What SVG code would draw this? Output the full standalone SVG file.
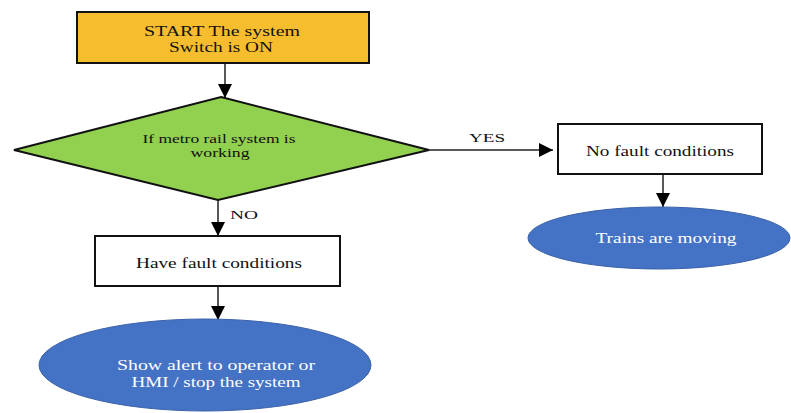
<svg xmlns="http://www.w3.org/2000/svg" width="791" height="413" viewBox="0 0 791 413">
  <defs>
    <marker id="arrow" markerUnits="userSpaceOnUse" markerWidth="16" markerHeight="14" refX="14" refY="7" orient="auto">
      <path d="M0,0 L14,7 L0,14 Z" fill="#000"/>
    </marker>
    <style>
      .dark { fill: #111; }
      .light { fill: #fff; }
      .box { stroke: #111; stroke-width: 2; }
      .conn { stroke: #222; stroke-width: 1.5; fill: none; }
      .oval { fill: #4472C4; stroke: #3b62a8; stroke-width: 1; }
    </style>
  </defs>

  <rect width="791" height="413" fill="#fff"/>

  <g font-family="'Liberation Serif', 'DejaVu Serif', serif" text-anchor="middle">
  <!-- connectors -->
  <g id="connectors">
    <line class="conn" x1="225" y1="63" x2="225" y2="98" marker-end="url(#arrow)"/>
    <line class="conn" x1="429" y1="150" x2="553" y2="150" marker-end="url(#arrow)"/>
    <line class="conn" x1="663" y1="174" x2="663" y2="207" marker-end="url(#arrow)"/>
    <line class="conn" x1="218" y1="200" x2="218" y2="236" marker-end="url(#arrow)"/>
    <line class="conn" x1="218" y1="286" x2="218" y2="320" marker-end="url(#arrow)"/>
    <text class="dark" x="487" y="142" font-size="13" textLength="36" lengthAdjust="spacingAndGlyphs">YES</text>
    <text class="dark" x="244" y="219" font-size="13" textLength="28" lengthAdjust="spacingAndGlyphs">NO</text>
  </g>

  <!-- start -->
  <g id="start">
    <rect class="box" x="77" y="12" width="292" height="51" fill="#F6BD2F"/>
    <text class="dark" x="222" y="36" font-size="14" textLength="156" lengthAdjust="spacingAndGlyphs">START The system</text>
    <text class="dark" x="221" y="52" font-size="14" textLength="104" lengthAdjust="spacingAndGlyphs">Switch is ON</text>
  </g>

  <!-- decision -->
  <g id="decision">
    <polygon points="221,97 429,150 218,200 14,150" fill="#92D050" stroke="#111" stroke-width="2"/>
    <text class="dark" x="219" y="143" font-size="12" textLength="153" lengthAdjust="spacingAndGlyphs">If metro rail system is</text>
    <text class="dark" x="220" y="157" font-size="12" textLength="59" lengthAdjust="spacingAndGlyphs">working</text>
  </g>

  <!-- no fault -->
  <g id="no-fault">
    <rect class="box" x="558" y="124" width="204" height="50" fill="#fff"/>
    <text class="dark" x="660" y="156" font-size="14" textLength="148" lengthAdjust="spacingAndGlyphs">No fault conditions</text>
  </g>

  <!-- trains moving -->
  <g id="trains-moving">
    <ellipse class="oval" cx="659" cy="238" rx="131" ry="31"/>
    <text class="light" x="666" y="243" font-size="14" textLength="141" lengthAdjust="spacingAndGlyphs">Trains are moving</text>
  </g>

  <!-- have fault -->
  <g id="have-fault">
    <rect class="box" x="95" y="236" width="245" height="50" fill="#fff"/>
    <text class="dark" x="219" y="268" font-size="14" textLength="166" lengthAdjust="spacingAndGlyphs">Have fault conditions</text>
  </g>

  <!-- alert -->
  <g id="alert">
    <ellipse class="oval" cx="205" cy="365" rx="166" ry="46"/>
    <text class="light" x="216" y="370" font-size="14" textLength="198" lengthAdjust="spacingAndGlyphs">Show alert to operator or</text>
    <text class="light" x="216" y="387" font-size="14" textLength="169" lengthAdjust="spacingAndGlyphs">HMI / stop the system</text>
  </g>
  </g>
</svg>
